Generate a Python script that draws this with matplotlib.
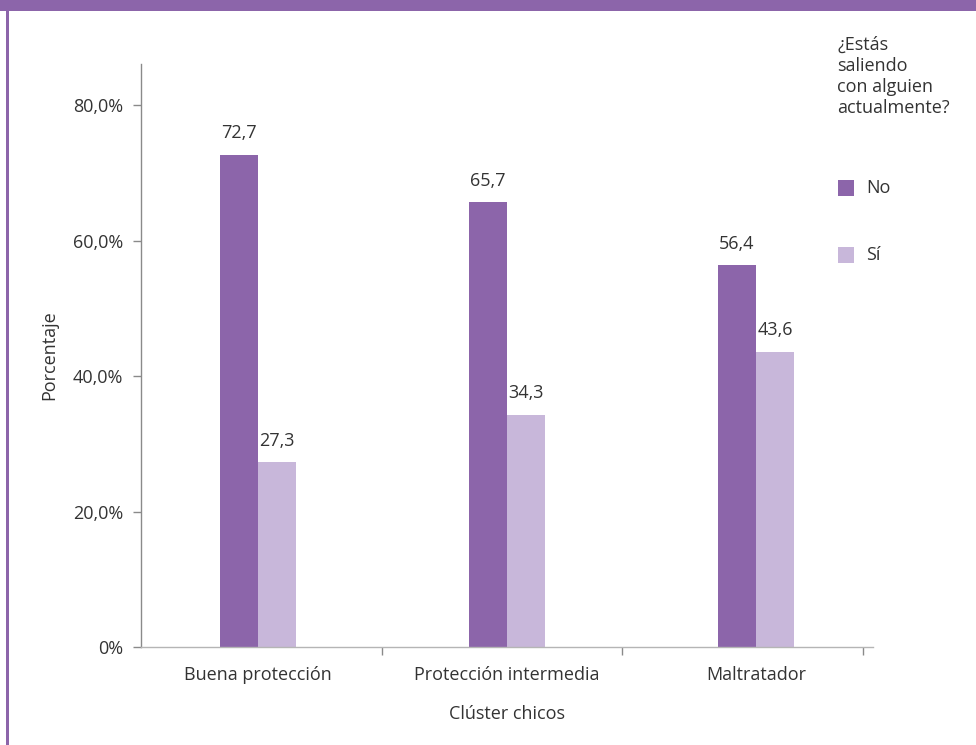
import matplotlib
matplotlib.use("Agg")
import matplotlib.pyplot as plt
from matplotlib.patches import Rectangle
import numpy as np

plt.rcParams['font.family'] = ['Open Sans', 'DejaVu Sans']

categories = ["Buena protección", "Protección intermedia", "Maltratador"]
no_vals = [72.7, 65.7, 56.4]
si_vals = [27.3, 34.3, 43.6]
series_names = ["No", "Sí"]
ytick_vals = [0, 20, 40, 60, 80]
ytick_labels = ["0%", "20,0%", "40,0%", "60,0%", "80,0%"]
legend_title = "¿Estás\nsaliendo\ncon alguien\nactualmente?"
xlabel = "Clúster chicos"
ylabel = "Porcentaje"

c_no = "#8C65AA"
c_si = "#C8B7DA"
txt = "#333333"
axc = "#8a8a8a"
fs = 13

W, H = 976, 745
fig = plt.figure(figsize=(W / 100, H / 100), dpi=100)
fig.patch.set_facecolor("white")

# header band and left border
fig.add_artist(Rectangle((0, 1 - 11 / H), 1, 11 / H, transform=fig.transFigure,
                         facecolor=c_no, edgecolor="none"))
fig.add_artist(Rectangle((6 / W, 0), 3 / W, 1 - 11 / H, transform=fig.transFigure,
                         facecolor=c_no, edgecolor="none"))

ax = fig.add_axes([141 / W, 1 - 647 / H, (873 - 141) / W, (647 - 64) / H])
x = np.arange(len(categories))
bw = 38 / 249
b1 = ax.bar(x - bw / 2, no_vals, bw, color=c_no, label=series_names[0], zorder=2)
b2 = ax.bar(x + bw / 2, si_vals, bw, color=c_si, label=series_names[1], zorder=2)

for bars, vals in ((b1, no_vals), (b2, si_vals)):
    for r, v in zip(bars, vals):
        ax.annotate(f"{v:.1f}".replace(".", ","),
                    (r.get_x() + r.get_width() / 2, v),
                    xytext=(0, 9), textcoords="offset points",
                    ha="center", va="bottom", fontsize=fs, color=txt)

ax.set_xlim(-0.47, 2.47)
ax.set_ylim(0, 86.1)
ax.set_yticks(ytick_vals)
ax.set_yticklabels(ytick_labels)
ax.set_xticks(x)
ax.set_xticklabels(categories)
ax.tick_params(axis="x", length=0, pad=14, labelsize=fs, labelcolor=txt)
ax.set_xticks([0.498, 1.462, 2.43], minor=True)
ax.tick_params(axis="x", which="minor", length=6, color=axc, width=1)
ax.tick_params(axis="y", length=6, color=axc, width=1, pad=7, labelsize=fs, labelcolor=txt)
for s in ("top", "right"):
    ax.spines[s].set_visible(False)
for s in ("left", "bottom"):
    ax.spines[s].set_color(axc)
    ax.spines[s].set_linewidth(1)
ax.spines["bottom"].set_color("#b5b5b5")

ax.set_xlabel(xlabel, fontsize=fs, color=txt, labelpad=15)
ax.set_ylabel(ylabel, fontsize=fs, color=txt, labelpad=10)

# legend
fig.text(837 / W, 1 - 36 / H, legend_title, ha="left", va="top", fontsize=fs,
         color=txt, linespacing=1.22)
for name, col, yc in ((series_names[0], c_no, 188), (series_names[1], c_si, 255)):
    fig.add_artist(Rectangle((838 / W, 1 - (yc + 8) / H), 16 / W, 16 / H,
                             transform=fig.transFigure, facecolor=col, edgecolor="none"))
    fig.text(866 / W, 1 - yc / H, name, ha="left", va="center", fontsize=fs, color=txt)

fig.savefig("out.png", dpi=100, facecolor="white")
